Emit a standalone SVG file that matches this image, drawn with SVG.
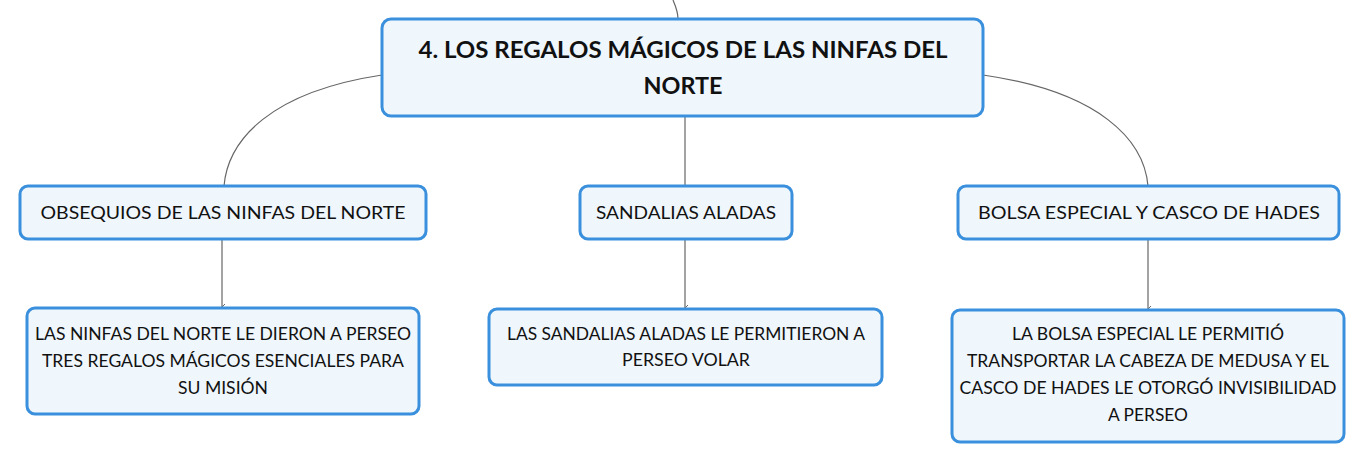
<svg xmlns="http://www.w3.org/2000/svg" width="1366" height="464" viewBox="0 0 1366 464">
<style>
.box{fill:#eff6fc;stroke:#3a90dd;stroke-width:3}
.t{font-family:"Lato","Liberation Sans",sans-serif;font-size:17.5px;fill:#111;text-anchor:middle}
.h{font-family:"Lato","Liberation Sans",sans-serif;font-size:22px;font-weight:bold;fill:#111;text-anchor:middle}
.c{fill:none;stroke:#666;stroke-width:1.2}
</style>
<defs>
<marker id="a" markerWidth="6" markerHeight="6" refX="3" refY="5" orient="auto" markerUnits="userSpaceOnUse" viewBox="0 0 6 6">
<path d="M0,2 L3,5 L6,2" fill="none" stroke="#666" stroke-width="1"/>
</marker>
</defs>
<rect width="1366" height="464" fill="#fff"/>
<g id="connectors">
<path class="c" d="M673,0 C676,7 678,13 678,19"/>
<path class="c" d="M382,75 C270,92 228,140 224,186"/>
<path class="c" d="M685,116 L685,186"/>
<path class="c" d="M983,75 C1100,92 1144,140 1148,186"/>
<path class="c" d="M222,239 L222,307" marker-end="url(#a)"/>
<path class="c" d="M685,239 L685,308" marker-end="url(#a)"/>
<path class="c" d="M1148,239 L1148,309" marker-end="url(#a)"/>
</g>
<g id="root">
<rect class="box" x="382" y="19" width="601" height="97" rx="9"/>
<text class="h" x="683" y="58" textLength="529" lengthAdjust="spacingAndGlyphs">4. LOS REGALOS MÁGICOS DE LAS NINFAS DEL</text>
<text class="h" x="683" y="94" textLength="79" lengthAdjust="spacingAndGlyphs">NORTE</text>
</g>
<g id="n1">
<rect class="box" x="20" y="186" width="406" height="53" rx="8"/>
<text class="t" x="223" y="219" textLength="365" lengthAdjust="spacingAndGlyphs">OBSEQUIOS DE LAS NINFAS DEL NORTE</text>
</g>
<g id="n2">
<rect class="box" x="580" y="186" width="212" height="53" rx="8"/>
<text class="t" x="686" y="219" textLength="180" lengthAdjust="spacingAndGlyphs">SANDALIAS ALADAS</text>
</g>
<g id="n3">
<rect class="box" x="958" y="186" width="381" height="53" rx="8"/>
<text class="t" x="1149" y="219" textLength="342" lengthAdjust="spacingAndGlyphs">BOLSA ESPECIAL Y CASCO DE HADES</text>
</g>
<g id="l1">
<rect class="box" x="27" y="308" width="392" height="106" rx="8"/>
<text class="t" x="223" y="340" textLength="376" lengthAdjust="spacingAndGlyphs">LAS NINFAS DEL NORTE LE DIERON A PERSEO</text>
<text class="t" x="223" y="367" textLength="362" lengthAdjust="spacingAndGlyphs">TRES REGALOS MÁGICOS ESENCIALES PARA</text>
<text class="t" x="223" y="394" textLength="90" lengthAdjust="spacingAndGlyphs">SU MISIÓN</text>
</g>
<g id="l2">
<rect class="box" x="489" y="309" width="393" height="76" rx="8"/>
<text class="t" x="686" y="340" textLength="358" lengthAdjust="spacingAndGlyphs">LAS SANDALIAS ALADAS LE PERMITIERON A</text>
<text class="t" x="686" y="366" textLength="128" lengthAdjust="spacingAndGlyphs">PERSEO VOLAR</text>
</g>
<g id="l3">
<rect class="box" x="952" y="310" width="392" height="132" rx="8"/>
<text class="t" x="1148" y="340" textLength="272" lengthAdjust="spacingAndGlyphs">LA BOLSA ESPECIAL LE PERMITIÓ</text>
<text class="t" x="1148" y="367" textLength="362" lengthAdjust="spacingAndGlyphs">TRANSPORTAR LA CABEZA DE MEDUSA Y EL</text>
<text class="t" x="1148" y="394" textLength="377" lengthAdjust="spacingAndGlyphs">CASCO DE HADES LE OTORGÓ INVISIBILIDAD</text>
<text class="t" x="1148" y="421" textLength="80" lengthAdjust="spacingAndGlyphs">A PERSEO</text>
</g>
</svg>
